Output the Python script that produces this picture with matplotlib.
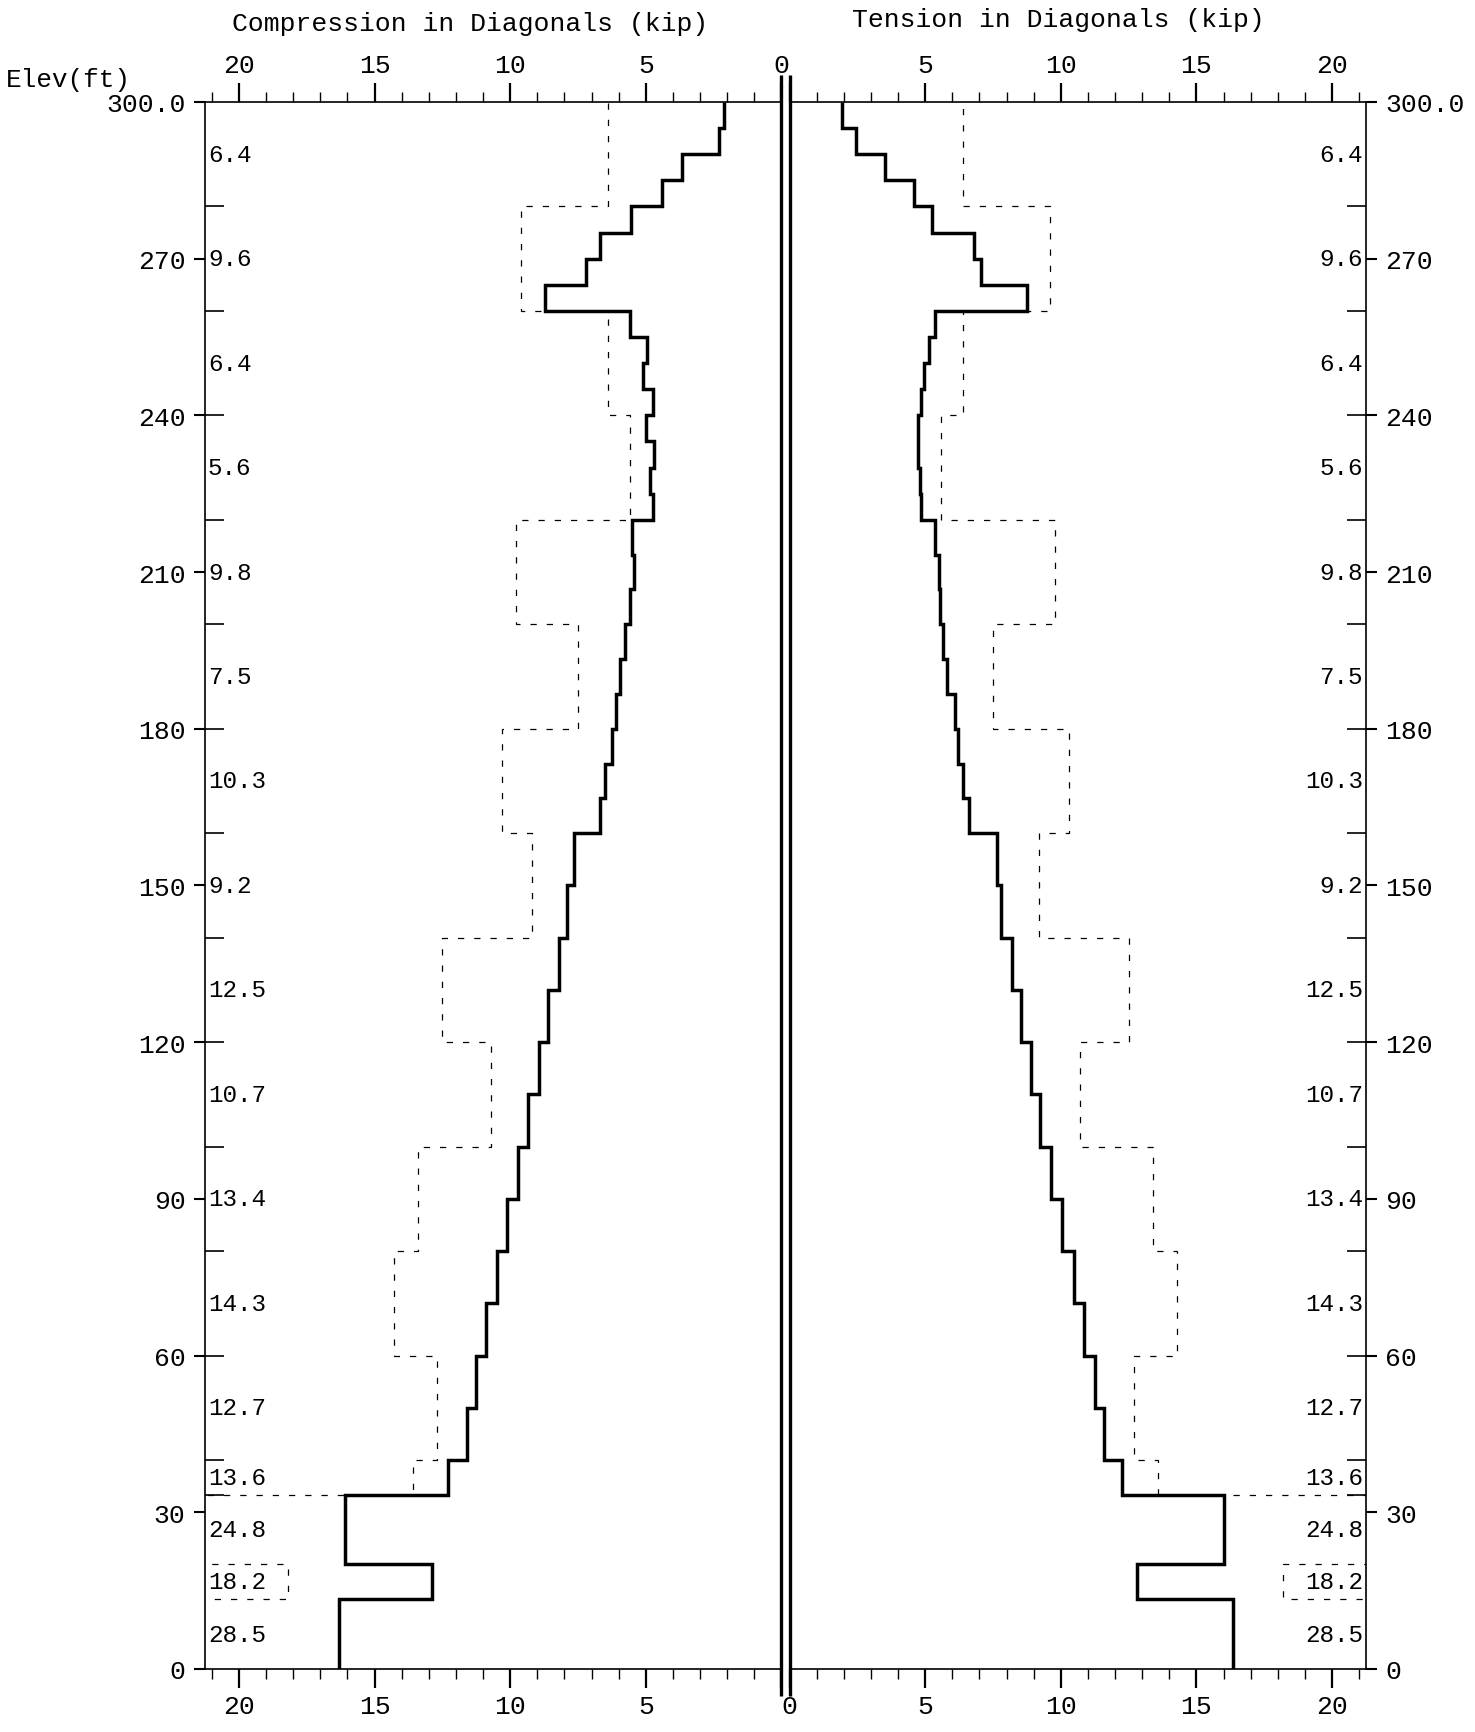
import matplotlib.pyplot as plt
from matplotlib.ticker import FixedLocator, MultipleLocator

plt.rcParams['font.family'] = ['Liberation Mono', 'DejaVu Sans Mono']

# tower sections (ft, top down) and allowable diagonal load in each (kip)
section_elev = [300, 280, 260, 240, 220, 200, 180, 160, 140, 120, 100, 80, 60,
                40, 33.33, 20, 13.33, 0]
allowable = [6.4, 9.6, 6.4, 5.6, 9.8, 7.5, 10.3, 9.2, 12.5, 10.7, 13.4, 14.3,
             12.7, 13.6, 24.8, 18.2, 28.5]

# panel points (ft, top down)
panel_elev = [300, 295, 290, 285, 280, 275, 270, 265, 260, 255, 250, 245, 240,
              235, 230, 225, 220, 213.33, 206.67, 200, 193.33, 186.67, 180,
              173.33, 166.67, 160, 150, 140, 130, 120, 110, 100, 90, 80, 70,
              60, 50, 40, 33.33, 20, 13.33, 0]

# diagonal forces per panel (kip, top down)
compression = [2.1, 2.3, 3.65, 4.4, 5.55, 6.7, 7.2, 8.7,
               5.6, 4.95, 5.1, 4.75, 5.0, 4.7, 4.85, 4.75,
               5.5, 5.45, 5.6, 5.75, 5.95, 6.1, 6.25, 6.5, 6.7,
               7.65, 7.9, 8.2, 8.6, 8.95, 9.35, 9.7, 10.1, 10.5, 10.9, 11.25, 11.6,
               12.3, 16.1, 12.9, 16.3]
tension = [1.95, 2.45, 3.5, 4.6, 5.25, 6.8, 7.05, 8.75,
           5.35, 5.15, 4.95, 4.85, 4.75, 4.75, 4.8, 4.85,
           5.35, 5.5, 5.55, 5.65, 5.8, 6.1, 6.2, 6.4, 6.6,
           7.65, 7.8, 8.2, 8.55, 8.9, 9.25, 9.65, 10.05, 10.5, 10.85, 11.25, 11.6,
           12.25, 16.0, 12.8, 16.35]

elev_ticks = [0, 30, 60, 90, 120, 150, 180, 210, 240, 270, 300]
elev_labels = ['0', '30', '60', '90', '120', '150', '180', '210', '240', '270', '300.0']
kip_ticks = [0, 5, 10, 15, 20]
xmax = 21.25

fig = plt.figure(figsize=(14.75, 17.33), dpi=100)
axl = fig.add_axes([0.139, 0.0364, 0.3908, 0.9042])
axr = fig.add_axes([0.5353, 0.0364, 0.3908, 0.9042])

for ax, forces, side in [(axl, compression, 'left'), (axr, tension, 'right')]:
    ax.stairs(allowable[::-1], section_elev[::-1], orientation='horizontal',
              baseline=None, color='k', lw=0.9, linestyle=(0, (5, 8)))
    ax.stairs(forces[::-1], panel_elev[::-1], orientation='horizontal',
              baseline=None, color='k', lw=2.5)
    # zero line (double line in the middle)
    ax.plot([0, 0], [-5.2, 305.2], color='k', lw=2.4, clip_on=False,
            solid_capstyle='butt')

    ax.set_ylim(0, 300)
    ax.xaxis.set_major_locator(FixedLocator(kip_ticks))
    ax.xaxis.set_minor_locator(MultipleLocator(1))
    ax.tick_params(axis='x', which='both', top=True, bottom=True,
                   labeltop=True, labelbottom=True, direction='out')
    ax.tick_params(axis='x', which='major', length=14, width=1.6,
                   labelsize=19, pad=4)
    ax.tick_params(axis='x', which='minor', length=7, width=1.0)

    ax.yaxis.remove_overlapping_locs = False
    ax.yaxis.set_major_locator(FixedLocator(elev_ticks))
    ax.yaxis.set_minor_locator(FixedLocator(section_elev[1:15]))
    ax.set_yticklabels(elev_labels)
    ax.tick_params(axis='y', which='major', direction='out', length=8,
                   width=1.5, labelsize=19, pad=6)
    ax.tick_params(axis='y', which='minor', direction='in', length=14,
                   width=1.2)

    for s in ax.spines.values():
        s.set_linewidth(1.2)

    mids = [(a + b) / 2 for a, b in zip(section_elev[:-1], section_elev[1:])]
    for m, v in zip(mids, allowable):
        if side == 'left':
            ax.text(0.005, m, f'{v}', transform=ax.get_yaxis_transform(),
                    ha='left', va='center', fontsize=17.5)
        else:
            ax.text(0.995, m, f'{v}', transform=ax.get_yaxis_transform(),
                    ha='right', va='center', fontsize=17.5)

axl.set_xlim(xmax, 0)
axl.spines['right'].set_visible(False)
axl.xaxis.get_major_ticks()[0].label1.set_visible(False)

axr.set_xlim(0, xmax)
axr.spines['left'].set_visible(False)
axr.yaxis.tick_right()
axr.tick_params(axis='y', which='both', left=False, right=True)
axr.xaxis.get_major_ticks()[0].label2.set_visible(False)

fig.text(470 / 1475, 1 - 24 / 1733, 'Compression in Diagonals (kip)',
         ha='center', va='center', fontsize=19)
fig.text(1058 / 1475, 1 - 20 / 1733, 'Tension in Diagonals (kip)',
         ha='center', va='center', fontsize=19)
fig.text(6 / 1475, 1 - 80 / 1733, 'Elev(ft)', ha='left', va='center',
         fontsize=18.8)

fig.savefig('out.png', dpi=100)
